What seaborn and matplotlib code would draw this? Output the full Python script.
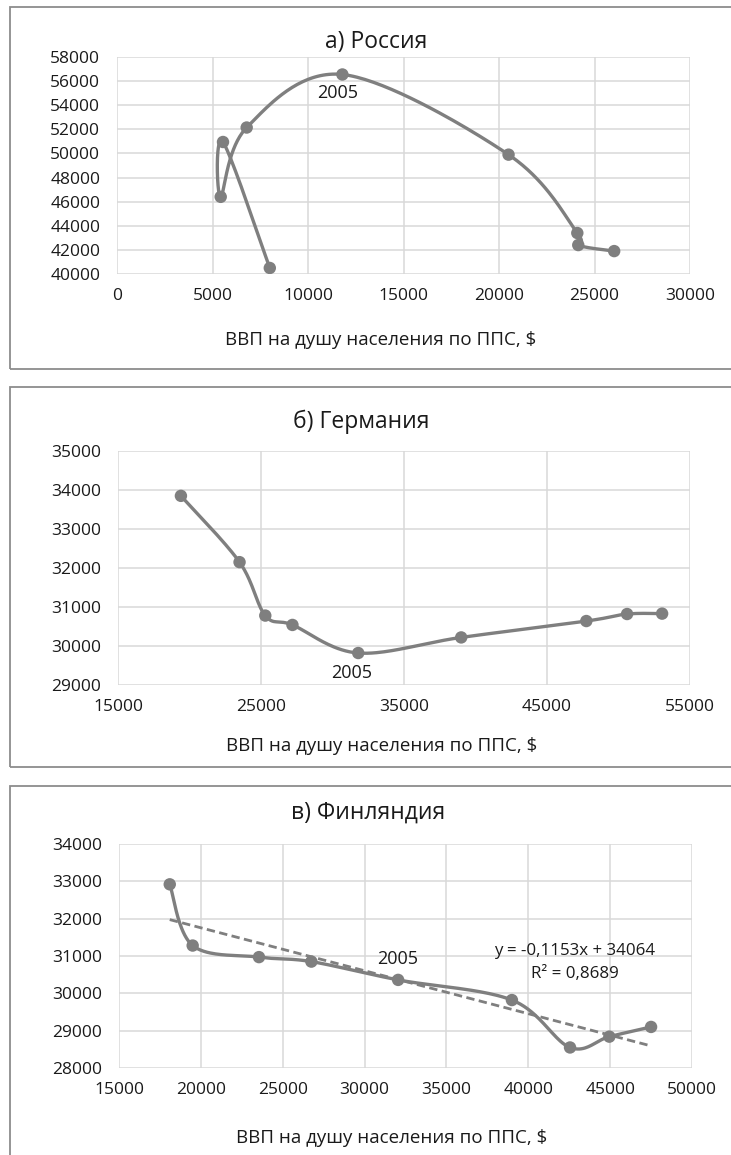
import numpy as np
import pandas as pd
import seaborn as sns
import matplotlib.pyplot as plt
from matplotlib.patches import Rectangle

# а) Россия
ru_gdp = [8000, 5550, 5430, 6790, 11800, 20500, 24100, 24150, 26030]
ru_val = [40500, 50950, 46400, 52150, 56550, 49900, 43400, 42400, 41900]
# б) Германия
de_gdp = [19400, 23500, 25300, 27200, 31800, 39000, 47750, 50600, 53050]
de_val = [33850, 32150, 30780, 30540, 29820, 30220, 30640, 30820, 30830]
# в) Финляндия
fi_gdp = [18100, 19500, 23550, 26750, 32050, 39000, 42550, 44950, 47500]
fi_val = [32920, 31280, 30970, 30850, 30360, 29820, 28550, 28840, 29100]

titles = ['а) Россия', 'б) Германия', 'в) Финляндия']
xlabel = 'ВВП на душу населения по ППС, $'
trend_eq = 'y = -0,1153x + 34064'
trend_r2 = 'R² = 0,8689'

W, H = 731, 1155
GRAY = '#7f7f7f'
TXT = '#1a1a1a'

sns.set_theme(style='white')
plt.rcParams['font.family'] = ['Open Sans', 'DejaVu Sans']


def smooth(xs, ys, n=40):
    # excel-like smoothed line (catmull-rom as bezier)
    p = np.column_stack([xs, ys]).astype(float)
    p = np.vstack([p[0], p, p[-1]])
    t = np.linspace(0, 1, n)[:, None]
    segs = []
    for i in range(1, len(p) - 2):
        p0, p1, p2, p3 = p[i - 1], p[i], p[i + 1], p[i + 2]
        c1 = p1 + (p2 - p0) / 6
        c2 = p2 - (p3 - p1) / 6
        seg = (1 - t) ** 3 * p1 + 3 * (1 - t) ** 2 * t * c1 + 3 * (1 - t) * t ** 2 * c2 + t ** 3 * p2
        segs.append(seg if i == 1 else seg[1:])
    c = np.vstack(segs)
    return pd.DataFrame({'x': c[:, 0], 'y': c[:, 1]})


def px_axes(fig, left, right, top, bottom):
    return fig.add_axes([left / W, 1 - bottom / H, (right - left) / W, (bottom - top) / H])


def draw_panel(ax, xs, ys, xlim, xstep, ylim, ystep):
    sns.lineplot(data=smooth(xs, ys), x='x', y='y', sort=False, estimator=None,
                 color=GRAY, lw=2.4, ax=ax, zorder=3)
    sns.scatterplot(x=xs, y=ys, color=GRAY, s=80, edgecolor='none', ax=ax, zorder=4)
    ax.set_xlim(*xlim)
    ax.set_ylim(*ylim)
    ax.set_xticks(np.arange(xlim[0], xlim[1] + 1, xstep))
    ax.set_yticks(np.arange(ylim[0], ylim[1] + 1, ystep))
    ax.grid(True, color='#d9d9d9', lw=1.1)
    for s in ax.spines.values():
        s.set_visible(False)
    ax.tick_params(axis='y', length=0, pad=12, labelsize=12.5, labelcolor=TXT)
    ax.tick_params(axis='x', length=0, pad=10, labelsize=12.5, labelcolor=TXT)
    ax.set_xlabel('')
    ax.set_ylabel('')


fig = plt.figure(figsize=(W / 100, H / 100), dpi=100)

# chart frames
for top, bottom in [(7, 369), (387, 767), (786, 1200)]:
    fig.add_artist(Rectangle((10 / W, 1 - bottom / H), 2, (bottom - top) / H,
                             transform=fig.transFigure, fill=False, ec='#8c8c8c', lw=1.3))

ax1 = px_axes(fig, 117, 690, 57, 274)
draw_panel(ax1, ru_gdp, ru_val, (0, 30000), 5000, (40000, 58000), 2000)
ax1.annotate('2005', (ru_gdp[4], ru_val[4]), xytext=(-5, -19), textcoords='offset pixels',
             ha='center', va='center', fontsize=13, color=TXT)

ax2 = px_axes(fig, 118, 690, 451, 685)
draw_panel(ax2, de_gdp, de_val, (15000, 55000), 10000, (29000, 35000), 1000)
ax2.annotate('2005', (de_gdp[4], de_val[4]), xytext=(-7, -20), textcoords='offset pixels',
             ha='center', va='center', fontsize=13, color=TXT)

ax3 = px_axes(fig, 119, 692, 844, 1068)
sns.regplot(x=fi_gdp, y=fi_val, scatter=False, ci=None, truncate=True, ax=ax3,
            line_kws=dict(color=GRAY, lw=2.0, ls=(0, (3, 1.6)), zorder=2))
draw_panel(ax3, fi_gdp, fi_val, (15000, 50000), 5000, (28000, 34000), 1000)
ax3.annotate('2005', (fi_gdp[4], fi_val[4]), xytext=(-1, 21), textcoords='offset pixels',
             ha='center', va='center', fontsize=13, color=TXT)
fig.text(575 / W, 1 - 951 / H, trend_eq, ha='center', va='center', fontsize=12.2, color=TXT)
fig.text(575 / W, 1 - 974 / H, trend_r2, ha='center', va='center', fontsize=12.2, color=TXT)

# titles and axis captions
for (tx, ty), t in zip([(376, 42), (361, 422), (368, 813)], titles):
    fig.text(tx / W, 1 - ty / H, t, ha='center', va='center', fontsize=16.5, color=TXT)
for lx, ly in [(381, 340), (382, 746), (392, 1138)]:
    fig.text(lx / W, 1 - ly / H, xlabel, ha='center', va='center', fontsize=13.5, color=TXT)

fig.savefig('out.png', dpi=100)
